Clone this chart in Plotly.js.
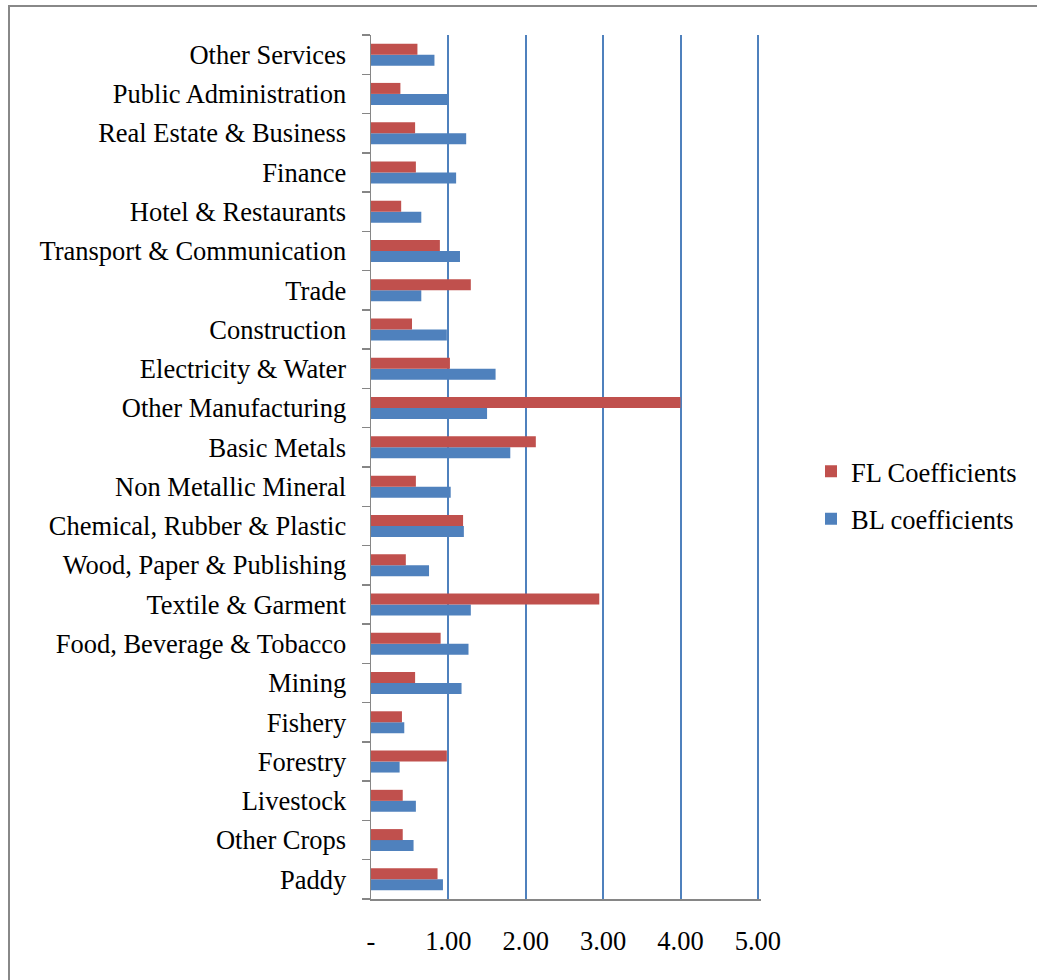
<!DOCTYPE html>
<html>
<head>
<meta charset="utf-8">
<script src="https://cdn.plot.ly/plotly-3.0.1.min.js"></script>
<style>
html,body{margin:0;padding:0;background:#fff;overflow:hidden;}
#frame{position:absolute;left:8px;top:5px;width:1100px;height:1100px;border-left:2px solid #888;border-top:2px solid #888;box-sizing:border-box;pointer-events:none;z-index:5;}
#chart{position:absolute;left:0;top:0;width:1037px;height:980px;}
</style>
</head>
<body>
<div id="chart"></div>
<div id="frame"></div>
<script>
const sectors = ["Paddy","Other Crops","Livestock","Forestry","Fishery","Mining",
  "Food, Beverage & Tobacco","Textile & Garment","Wood, Paper & Publishing",
  "Chemical, Rubber & Plastic","Non Metallic Mineral","Basic Metals",
  "Other Manufacturing","Electricity & Water","Construction","Trade",
  "Transport & Communication","Hotel & Restaurants","Finance",
  "Real Estate & Business","Public Administration","Other Services"];
const blValues = [0.93,0.55,0.58,0.37,0.43,1.17,1.26,1.29,0.75,1.20,1.03,1.80,
  1.50,1.61,0.98,0.65,1.15,0.65,1.10,1.23,1.00,0.82];
const flValues = [0.86,0.41,0.41,0.98,0.40,0.57,0.90,2.95,0.45,1.19,0.58,2.13,
  4.00,1.02,0.53,1.29,0.89,0.39,0.58,0.57,0.38,0.60];
const xTickVals = [0,1,2,3,4,5];
const xTickText = ["-","1.00","2.00","3.00","4.00","5.00"];

const font = {family:"'Liberation Serif','Times New Roman',serif", size:26.5, color:"#000"};

const traces = [
  {type:"bar", orientation:"h", name:"BL coefficients", y:sectors, x:blValues,
   legendgroup:"bl", legendrank:2, marker:{color:"#4F81BD"}},
  {type:"bar", orientation:"h", name:"FL Coefficients", y:sectors, x:flValues,
   legendgroup:"fl", legendrank:1, marker:{color:"#C0504D"}}
];

const xMax = 5.04;
const pxPerUnit = 77.3;
const plotW = Math.round(xMax * pxPerUnit);

const layout = {
  width:1037, height:980,
  margin:{l:371, r:1037-371-plotW, t:35, b:81, pad:0, autoexpand:false},
  paper_bgcolor:"#fff", plot_bgcolor:"#fff",
  font:font,
  barmode:"group", bargap:0.44, bargroupgap:0,
  showlegend:true,
  legend:{xref:"container", yref:"container", x:811/1037, xanchor:"left",
    y:1-495/980, yanchor:"middle", traceorder:"grouped",
    font:font, itemwidth:30, tracegroupgap:10, bgcolor:"rgba(0,0,0,0)"},
  xaxis:{range:[0,xMax], tickvals:xTickVals, ticktext:xTickText, showgrid:true,
    gridcolor:"#4F81BD", gridwidth:2, zeroline:false, showline:true,
    linecolor:"#868686", linewidth:1.5, ticks:"", ticklabelstandoff:18,
    tickfont:font, fixedrange:true},
  yaxis:{type:"category", categoryorder:"array", categoryarray:sectors,
    showgrid:false, zeroline:false, showline:true, linecolor:"#868686", linewidth:1.5,
    ticks:"outside", tickson:"boundaries", ticklen:8, tickcolor:"#868686", tickwidth:1.5,
    ticklabelstandoff:18, tickfont:font, fixedrange:true}
};

Plotly.newPlot("chart", traces, layout, {displayModeBar:false, staticPlot:true});
</script>
</body>
</html>
